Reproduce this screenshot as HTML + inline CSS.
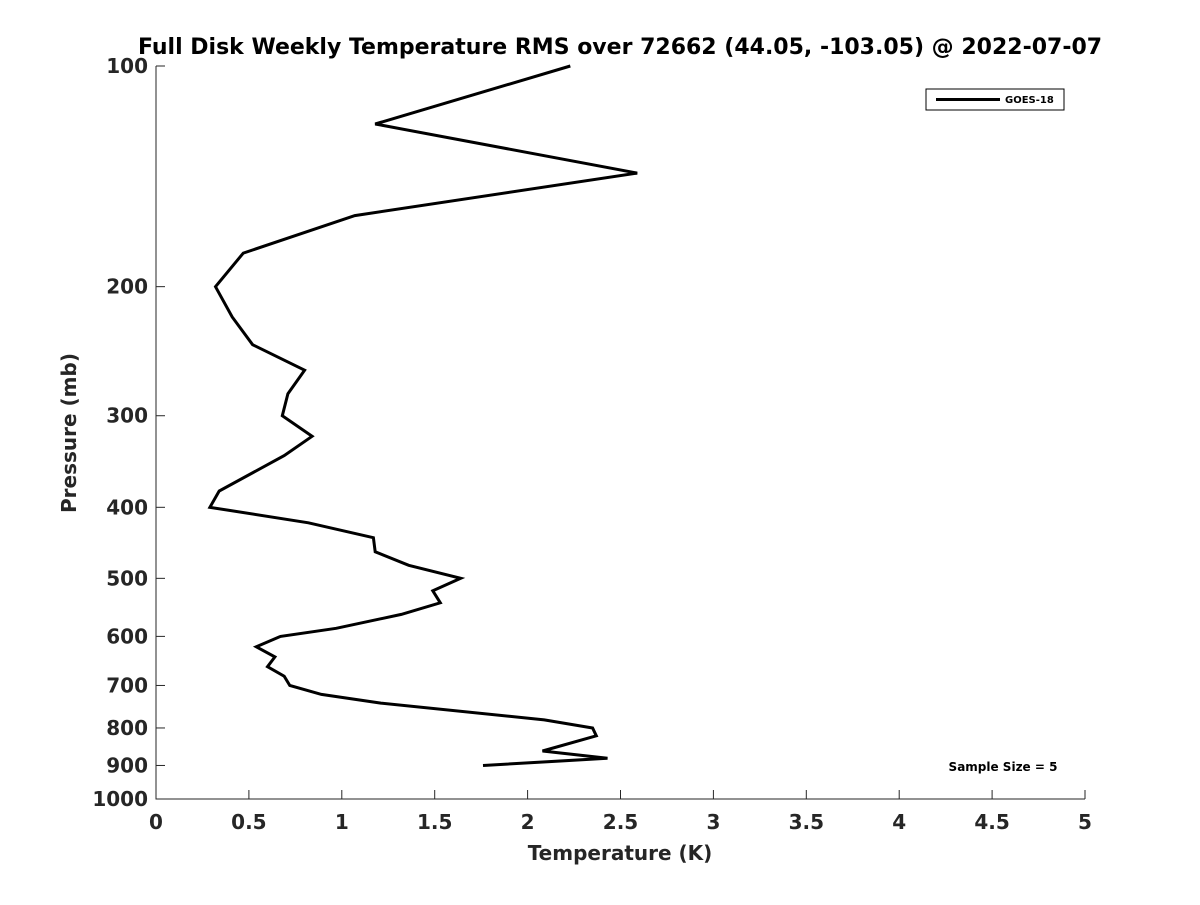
<!DOCTYPE html>
<html><head><meta charset="utf-8"><style>
body{margin:0;background:#fff;}
text{font-family:"DejaVu Sans","Liberation Sans",sans-serif;font-weight:bold;fill:#262626;}
</style></head><body>
<svg id="chart" width="1200" height="900" xmlns="http://www.w3.org/2000/svg">
<rect width="1200" height="900" fill="#fff"/>
<text x="620" y="54" text-anchor="middle" font-size="22" style="fill:#000">Full Disk Weekly Temperature RMS over 72662 (44.05, -103.05) @ 2022-07-07</text>
<g id="axes"></g>
<text x="620" y="860" text-anchor="middle" font-size="20">Temperature (K)</text>
<text transform="translate(76,433) rotate(-90)" text-anchor="middle" font-size="20">Pressure (mb)</text>
<g>
<rect x="926" y="89" width="138" height="21" fill="#fff" stroke="#000" stroke-width="1"/>
<line x1="936" y1="99.5" x2="1000" y2="99.5" stroke="#000" stroke-width="3"/>
<text x="1005" y="103" font-size="10" style="fill:#000">GOES-18</text>
</g>
<text x="1003" y="771" text-anchor="middle" font-size="12" style="fill:#000">Sample Size = 5</text>
</svg>
<script>
const temps=[2.23,1.18,2.59,1.07,0.47,0.32,0.41,0.52,0.80,0.71,0.68,0.84,0.69,0.34,0.29,0.82,1.17,1.18,1.36,1.64,1.49,1.53,1.32,0.97,0.67,0.54,0.64,0.60,0.69,0.72,0.89,1.21,2.09,2.35,2.37,2.08,2.43,1.76];
const pressures=[100,120,140,160,180,200,220,240,260,280,300,320,340,380,400,420,440,460,480,500,520,540,560,585,600,620,640,660,680,700,720,740,780,800,820,860,880,900];
const xTicks=[0,0.5,1,1.5,2,2.5,3,3.5,4,4.5,5];
const xTickLabels=["0","0.5","1","1.5","2","2.5","3","3.5","4","4.5","5"];
const yTicks=[100,200,300,400,500,600,700,800,900,1000];
const yTickLabels=["100","200","300","400","500","600","700","800","900","1000"];
const NS="http://www.w3.org/2000/svg";
const X0=156,X1=1085,Y0=66,Y1=799;
const xs=v=>X0+(v-0)/(5-0)*(X1-X0);
const ys=p=>Y0+(Math.log10(p)-2)*(Y1-Y0);
const g=document.getElementById('axes');
function mk(t,a){const e=document.createElementNS(NS,t);for(const k in a)e.setAttribute(k,a[k]);g.appendChild(e);return e;}
const ax=mk('path',{d:`M${X0},${Y0}V${Y1}H${X1}`,fill:'none',stroke:'#262626','stroke-width':1});


xTicks.forEach((v,i)=>{
 const x=xs(v);
 const l=mk('line',{x1:x,x2:x,y1:Y1,y2:Y1-9,stroke:'#262626'});
 
 
 const t=mk('text',{x:x,y:Y1+30,'text-anchor':'middle','font-size':20});
 t.textContent=xTickLabels[i];
 
 
});
yTicks.forEach((p,i)=>{
 const y=ys(p);
 const l=mk('line',{x1:X0,x2:X0+9,y1:y,y2:y,stroke:'#262626'});
 
 
 const t=mk('text',{x:X0-8,y:y+7,'text-anchor':'end','font-size':20});
 t.textContent=yTickLabels[i];
 
 
});
const pts=temps.map((v,i)=>xs(v).toFixed(1)+','+ys(pressures[i]).toFixed(1)).join(' ');
const line=mk('polyline',{points:pts,fill:'none',stroke:'#000','stroke-width':3,'stroke-linejoin':'miter'});


</script>
</body></html>
